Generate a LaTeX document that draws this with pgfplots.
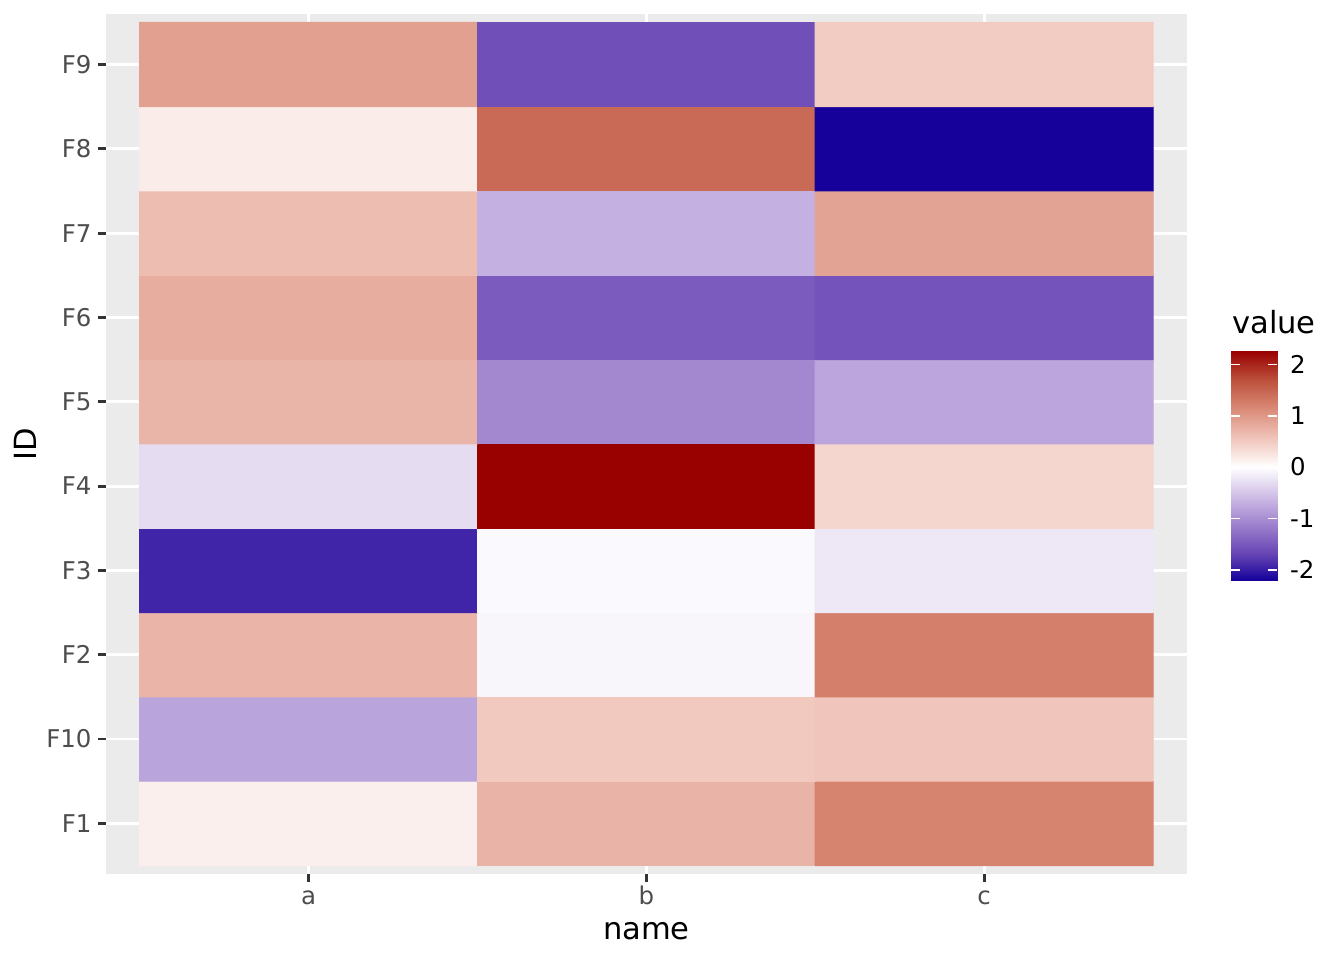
\documentclass[border=0pt]{standalone}
\usepackage{fontspec}
\setmainfont{DejaVu Sans}
\usepackage{pgfplots}
\pgfplotsset{compat=1.18}
\definecolor{panelgray}{HTML}{EBEBEB}
\definecolor{gray20}{HTML}{333333}
\definecolor{gray30}{HTML}{4D4D4D}
\pgfplotsset{colormap={gg}{
  rgb255(0pt)=(22,2,155)
  rgb255(50.5pt)=(102,68,180)
  rgb255(107pt)=(157,128,205)
  rgb255(163.5pt)=(207,190,230)
  rgb255(220pt)=(255,255,255)
  rgb255(276.5pt)=(240,196,186)
  rgb255(333pt)=(218,139,120)
  rgb255(389.5pt)=(188,81,60)
  rgb255(446pt)=(153,0,0)
}}
\begin{document}
\begin{tikzpicture}
\path[fill=white,use as bounding box] (0,0) rectangle (483.84pt,345.6pt);
\begin{axis}[
  at={(38.16pt,31.0pt)}, anchor=south west,
  scale only axis, width=389.1pt, height=309.6pt,
  xmin=0.4, xmax=3.6, ymin=0.4, ymax=10.6,
  axis background/.style={fill=panelgray},
  axis line style={draw=none},
  xtick={1,2,3}, xticklabels={a,b,c},
  ytick={1,2,3,4,5,6,7,8,9,10},
  yticklabels={F1,F10,F2,F3,F4,F5,F6,F7,F8,F9},
  tick align=outside, tick pos=left,
  major tick length=2.75pt,
  tick style={color=gray20, line width=1.07pt},
  grid=major, grid style={white, line width=1.07pt},
  ticklabel style={font=\fontsize{8.8}{10}\selectfont, text=gray30},
  yticklabel style={anchor=east, inner sep=0pt, xshift=-2.27pt},
  xticklabel style={anchor=base, inner sep=0pt, yshift=-8.25pt},
  xlabel={name}, ylabel={ID},
  label style={font=\fontsize{11}{13}\selectfont, text=black},
  xlabel style={at={(axis description cs:0.5,-0.0759)}, anchor=base},
  ylabel style={at={(axis description cs:-0.064,0.5)}, anchor=base},
  colormap name=gg,
  point meta min=-2.2, point meta max=2.26,
]
\addplot[matrix plot*, mesh/cols=3, point meta=explicit] table[meta=v] {
x y v
1 1 0.15
2 1 0.73
3 1 1.21
1 2 -0.80
2 2 0.52
3 2 0.56
1 3 0.72
2 3 -0.08
3 3 1.25
1 4 -1.93
2 4 -0.055
3 4 -0.21
1 5 -0.305
2 5 2.26
3 5 0.39
1 6 0.71
2 6 -1.06
3 6 -0.79
1 7 0.785
2 7 -1.48
3 7 -1.55
1 8 0.63
2 8 -0.68
3 8 0.89
1 9 0.18
2 9 1.45
3 9 -2.20
1 10 0.92
2 10 -1.59
3 10 0.49
};
\end{axis}
% colour bar
\begin{axis}[
  at={(443.2pt,136.8pt)}, anchor=south west,
  scale only axis, width=16.6pt, height=82.4pt,
  xmin=0, xmax=1, ymin=-2.2, ymax=2.26,
  axis line style={draw=none},
  xtick=\empty,
  ytick={-2,-1,0,1,2}, yticklabels={-2,-1,0,1,2},
  tick align=inside, ytick pos=both, yticklabel pos=right,
  major tick length=3.3pt,
  ytick style={draw=white, line width=0.6pt},
  axis on top,
  colormap name=gg,
  point meta min=-2.2, point meta max=2.26,
  yticklabel style={font=\fontsize{8.8}{10}\selectfont, text=black, anchor=west, inner sep=0pt, xshift=4.4pt},
]
\addplot[surf, shader=interp, mesh/cols=2, point meta=y] table {
x y
0 -2.2
1 -2.2
0 -1.695
1 -1.695
0 -1.13
1 -1.13
0 -0.565
1 -0.565
0 0
1 0
0 0.565
1 0.565
0 1.13
1 1.13
0 1.695
1 1.695
0 2.26
1 2.26
};
\end{axis}
\node[anchor=base west, inner sep=0pt, font=\fontsize{11}{13}\selectfont] at (443.4pt,225.6pt) {value};
\end{tikzpicture}
\end{document}
